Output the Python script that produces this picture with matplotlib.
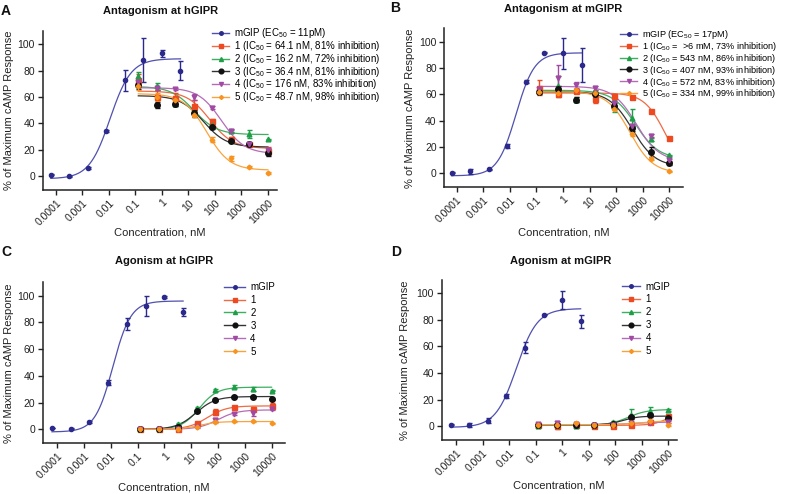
import numpy as np
import matplotlib
matplotlib.use("Agg")
import matplotlib.pyplot as plt
from matplotlib.lines import Line2D

plt.rcParams['font.family'] = ['Liberation Sans', 'DejaVu Sans']
plt.rcParams['mathtext.fontset'] = 'custom'
plt.rcParams['mathtext.rm'] = 'Liberation Sans'
plt.rcParams['mathtext.it'] = 'Liberation Sans:italic'
plt.rcParams['mathtext.bf'] = 'Liberation Sans:bold'

# ---------------- data ----------------
conc_gip = [0.000064, 0.00032, 0.0016, 0.008, 0.04, 0.2, 1, 5]          # nM
conc_cmp = [0.128, 0.64, 3.2, 16, 80, 400, 2000, 10000]                  # nM

series_names = ["mGIP", "1", "2", "3", "4", "5"]
series_colors = ["#2B2A8C", "#EE4A22", "#1F9E49", "#111111", "#A14AA4", "#F7931E"]
curve_colors = ["#5050B0", "#F06A45", "#3DB060", "#333333", "#B56CB8", "#F8A43E"]
series_markers = ["o", "s", "^", "o", "v", "D"]
series_msize = [3.0, 3.6, 3.4, 4.0, 3.4, 2.4]

xtick_vals = [0.0001, 0.001, 0.01, 0.1, 1, 10, 100, 1000, 10000]
xtick_labels = ["0.0001", "0.001", "0.01", "0.1", "1", "10", "100", "1000", "10000"]
ytick_vals = [0, 20, 40, 60, 80, 100]

# Panel A: Antagonism at hGIPR
a_title = "Antagonism at hGIPR"
a_labels = ["mGIP (EC$_{50}$ = 11pM)",
            "1 (IC$_{50}$ = 64.1 nM, 81% inhibition)",
            "2 (IC$_{50}$ = 16.2 nM, 72% inhibition)",
            "3 (IC$_{50}$ = 36.4 nM, 81% inhibition)",
            "4 (IC$_{50}$ = 176 nM, 83% inhibition)",
            "5 (IC$_{50}$ = 48.7 nM, 98% inhibition)"]
a_vals = [[1, 0, 6.5, 34.5, 72.5, 88, 93, 80],
          [72.5, 60, 59, 53.5, 42, 28, 24, 19],
          [76, 68, 55, 48.5, 38.5, 34, 32, 28],
          [69, 54, 55, 47.5, 37, 26.5, 24, 17.5],
          [71, 66.5, 66, 60, 52, 34.5, 24, 19.5],
          [68, 60, 58, 46.5, 27.5, 13.5, 7, 2.5]]
a_errs = [[0.4, 0.4, 0.8, 0.8, 8, 16.5, 2.5, 7],
          [5, 5, 4, 4, 1.5, 1.5, 1, 3],
          [3, 2.5, 2, 1.5, 1, 1, 3, 0.5],
          [3, 2, 2, 2.5, 1, 1, 1, 2.5],
          [3, 1, 1, 2, 1, 1, 1, 1.5],
          [3, 3, 3, 2, 2, 2, 0.5, 0.5]]
a_fits = [(-2, 89, 0.011, 1.1),
          (64.5, 21, 64.1, 1.0),
          (68, 31.5, 16.2, 1.0),
          (61, 22, 36.4, 1.0),
          (67, 17, 176, 1.0),
          (62.5, 4.5, 48.7, 1.0)]

# Panel B: Antagonism at mGIPR
b_title = "Antagonism at mGIPR"
b_labels = ["mGIP (EC$_{50}$ = 17pM)",
            "1 (IC$_{50}$ =  >6 mM, 73% inhibition)",
            "2 (IC$_{50}$ = 543 nM, 86% inhibition)",
            "3 (IC$_{50}$ = 407 nM, 93% inhibition)",
            "4 (IC$_{50}$ = 572 nM, 83% inhibition)",
            "5 (IC$_{50}$ = 334 nM, 99% inhibition)"]
b_vals = [[0.5, 1.5, 3, 21, 69.5, 91.5, 91, 82.5],
          [65, 60.5, 62.5, 56.5, 59, 58, 47.5, 26.5],
          [63, 66, 56, 62.5, 51, 42, 26, 13.5],
          [62, 64, 56, 60.5, 51, 34, 16, 7.5],
          [64, 72, 67, 65, 53, 35.5, 28, 10],
          [62, 61, 63, 61, 49, 29.5, 11, 1.5]]
b_errs = [[0.3, 2, 0.5, 1.5, 1, 0.5, 12, 13],
          [5.5, 1, 1.5, 3, 1, 0.5, 0.5, 0.5],
          [2, 8, 2, 1, 4.5, 7, 1.5, 0.5],
          [1.5, 2, 2, 1, 2, 2, 4, 1],
          [1.5, 10, 2, 1.5, 1, 1, 1.5, 1],
          [1, 1, 1, 1, 1, 1, 1, 0.5]]
b_fits = [(-2, 91.5, 0.017, 1.25),
          (61, 0, 7000, 1.1),
          (63, 11, 543, 1.0),
          (62, 5, 407, 1.0),
          (66, 9, 572, 1.0),
          (62, 0, 334, 1.0)]

# Panel C: Agonism at hGIPR
c_title = "Agonism at hGIPR"
c_vals = [[1, 0.5, 5.5, 35, 79, 92, 99, 87.5],
          [0, 0.5, 0, 4.5, 13, 16.5, 15.5, 17.5],
          [0, 0.5, 4, 16, 29.5, 32, 30.5, 29],
          [0, 0.5, 2, 13.5, 22, 24.5, 24.5, 22.5],
          [0, 0, 0, 1.5, 7, 11.5, 12.5, 15],
          [0, 0, 0, 2, 5.5, 6, 6, 4.5]]
c_errs = [[0.3, 0.3, 0.5, 2, 4.5, 7.5, 0.5, 3],
          [0.5, 0.5, 0.5, 1, 2.5, 1, 1.5, 2],
          [0.3, 0.3, 0.5, 0.5, 0.5, 1, 1.5, 0.5],
          [0.3, 0.3, 0.5, 0.5, 0.5, 0.5, 0.5, 0.5],
          [0.3, 0.3, 0.3, 0.5, 1.5, 0.5, 2.5, 0.5],
          [0.3, 0.3, 0.3, 0.5, 0.5, 0.5, 0.5, 0.5]]
c_fits = [(-2, 96, 0.012, 1.3),
          (0, 17.5, 40, 1.2),
          (0, 31.5, 20, 1.3),
          (0, 24.5, 15, 1.2),
          (0, 14.5, 100, 1.2),
          (0, 5.8, 20, 1.3)]

# Panel D: Agonism at mGIPR
d_title = "Agonism at mGIPR"
d_vals = [[1, 1, 4, 23, 59, 84, 95, 79],
          [1, 0, 0.5, 0, 0, 1, 3, 7.5],
          [0, 0.5, 0, 0.5, 3, 8, 11.5, 12],
          [1, 1, 1, 1, 1.5, 6.5, 8, 6],
          [1.5, 2.5, 1.5, 1, 1, 2, 2.5, 3],
          [0.5, 1, 2, 1, 1, 2.5, 4, 1]]
d_errs = [[0.3, 1.5, 2, 1.5, 4, 0.5, 7, 5],
          [1, 2, 1, 1, 1, 1, 1.5, 1],
          [0.5, 0.5, 0.5, 0.5, 0.5, 5, 2.5, 0.5],
          [0.5, 0.5, 0.5, 0.5, 0.5, 1, 1, 1],
          [0.5, 1, 0.5, 0.5, 0.5, 0.5, 0.5, 0.5],
          [0.5, 0.5, 1, 0.5, 0.5, 0.5, 0.5, 1]]
d_fits = [(-1, 88.5, 0.019, 1.1),
          (0.5, 20, 20000, 1.3),
          (0.5, 12.5, 300, 1.2),
          (1, 7.5, 200, 1.5),
          (1, 3, 500, 1.0),
          (1, 4, 1000, 1.0)]

# ---------------- drawing ----------------
W, H = 787, 494
fig = plt.figure(figsize=(W / 100, H / 100), dpi=100)


def px_axes(l, r, t, b):
    return fig.add_axes([l / W, 1 - b / H, (r - l) / W, (b - t) / H])


def logistic(x, p):
    low, high, mid, hill = p
    return low + (high - low) / (1 + (mid / x) ** hill)


def draw_panel(ax, vals, errs, fits, xlim_log, leg_labels, leg_anchor, hlen, lspace, lfont, letter, letter_xy,
               title, title_xy, ylab_x, xlab_y):
    for i in range(6):
        xs = conc_gip if i == 0 else conc_cmp
        p = fits[i]
        xc = np.logspace(np.log10(xs[0]), np.log10(xs[-1]), 300)
        ax.plot(xc, logistic(xc, p), color=curve_colors[i], lw=0.9, zorder=2 + i * 0.1)
        ax.errorbar(xs, vals[i], yerr=errs[i], fmt='none', ecolor=series_colors[i], elinewidth=1.0,
                    capsize=1.8, capthick=1.0, zorder=3 + i * 0.1)
        ax.plot(xs, vals[i], ls='none', marker=series_markers[i], ms=series_msize[i],
                color=series_colors[i], mec=series_colors[i], zorder=4 + i * 0.1)
    ax.set_xscale('log')
    ax.set_xlim(10 ** xlim_log[0], 10 ** xlim_log[1])
    ax.set_ylim(-10.5, 110)
    ax.set_xticks(xtick_vals)
    ax.set_xticklabels(xtick_labels, rotation=45, ha='right', rotation_mode='anchor')
    ax.xaxis.set_minor_locator(matplotlib.ticker.NullLocator())
    ax.set_yticks(ytick_vals)
    ax.tick_params(axis='both', direction='out', length=3.5, width=1.0, labelsize=7.5, pad=2,
                   color='#222222', labelcolor='#222222')
    for s in ['top', 'right']:
        ax.spines[s].set_visible(False)
    for s in ['left', 'bottom']:
        ax.spines[s].set_linewidth(1.1)
        ax.spines[s].set_color('#222222')
    ax.set_ylabel("% of Maximum cAMP Response", fontsize=8, color='#222222')
    ax.yaxis.set_label_coords(ylab_x, 0.5)
    ax.set_xlabel("Concentration, nM", fontsize=8, color='#222222')
    ax.xaxis.set_label_coords(0.5, xlab_y)
    handles = [Line2D([], [], color=curve_colors[i], lw=1.0, marker=series_markers[i],
                      ms=series_msize[i] * 0.85, mfc=series_colors[i], mec=series_colors[i])
               for i in range(6)]
    fig.legend(handles, leg_labels, loc='upper left', bbox_to_anchor=(leg_anchor[0] / W, 1 - leg_anchor[1] / H),
               frameon=False, fontsize=lfont, borderpad=0, borderaxespad=0, handlelength=hlen,
               handletextpad=0.5, labelspacing=lspace)
    fig.text(letter_xy[0] / W, 1 - letter_xy[1] / H, letter, fontsize=10, fontweight='bold',
             va='center', ha='left', color='#111111')
    fig.text(title_xy[0] / W, 1 - title_xy[1] / H, title, fontsize=8, fontweight='bold',
             va='center', ha='center', color='#111111')


axA = px_axes(42.7, 277, 31, 190)
draw_panel(axA, a_vals, a_errs, a_fits, (-4.5, 4.34), a_labels, (212, 26.5), 1.8, -0.13, 7,
           "A", (1, 11), a_title, (161, 11.5), -0.122, -0.235)

axB = px_axes(444.3, 683, 28.5, 187)
draw_panel(axB, b_vals, b_errs, b_fits, (-4.47, 4.52), b_labels, (620, 28), 1.9, -0.12, 6.6,
           "B", (390, 8), b_title, (563, 8.5), -0.121, -0.255)

axC = px_axes(42.7, 285, 282.3, 443.3)
draw_panel(axC, c_vals, c_errs, c_fits, (-4.54, 4.5), series_names, (224, 282), 2.2, 0.3, 7,
           "C", (1, 252), c_title, (164, 261.5), -0.118, -0.243)

axD = px_axes(441.7, 676.7, 280, 440)
draw_panel(axD, d_vals, d_errs, d_fits, (-4.54, 4.32), series_names, (622, 281.5), 1.9, 0.3, 7,
           "D", (391, 252), d_title, (561, 261), -0.133, -0.25)

fig.savefig("out.png", dpi=100)
